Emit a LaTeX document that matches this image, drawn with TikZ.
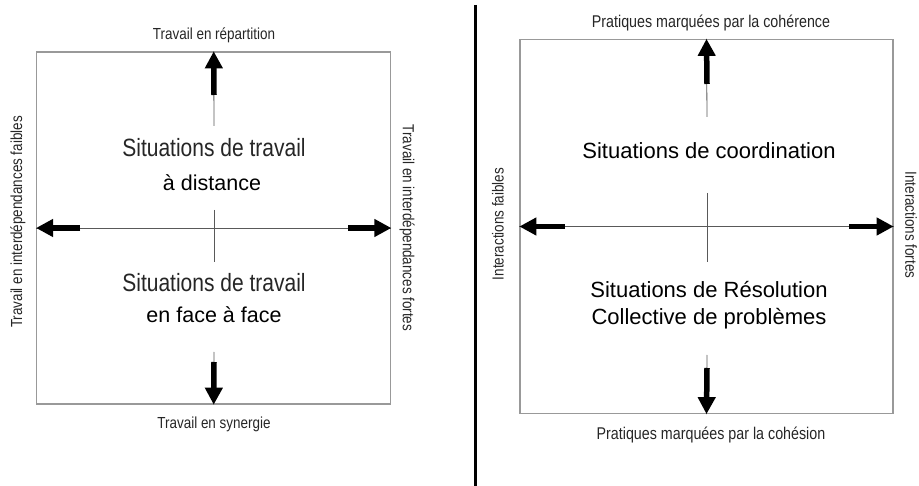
\documentclass[tikz,border=0pt]{standalone}
\usepackage{fontspec}
\setmainfont{Liberation Sans}
\newfontfamily\narrowfont[FakeStretch=0.84]{Liberation Sans}
\usetikzlibrary{arrows.meta}

\begin{document}
\begin{tikzpicture}[x=1pt, y=-1pt,
    frame/.style={draw=black!40, line width=1.3pt, inner sep=0},
    axisline/.style={draw=black!65, line width=0.8pt},
    bigarrow/.style={line width=5.5pt, -{Triangle[length=17pt, width=17pt]}},
    axislabel/.style={inner sep=0, text=black!85, font=\narrowfont\fontsize{16}{18}\selectfont},
    sitlabel/.style={inner sep=0, text=black!85, font=\narrowfont\fontsize{25}{28}\selectfont},
    plainlabel/.style={inner sep=0, align=center, font=\fontsize{21.5}{27}\selectfont}]
        \useasboundingbox (0, 0) rectangle (919, 486);

        % left panel
        \node (quadL) [frame, minimum width=354pt, minimum height=352pt] at (213.7, 228) {};

        \coordinate (L-t1) at (214, 126);
        \coordinate (L-t2) at (214, 210);
        \coordinate (L-b1) at (214, 262);
        \coordinate (L-b2) at (214, 352);
        \coordinate (L-ts) at (214, 95);
        \coordinate (L-bs) at (214, 362);
        \coordinate (L-ls) at (80, 228);
        \coordinate (L-rs) at (348, 228);

        \node (repart)   [axislabel] at (214, 35) {Travail en répartition};
        \node (synergie) [axislabel] at (214, 424.5) {Travail en synergie};
        \node (faibleL)  [axislabel, rotate=90] at (18, 222) {Travail en interdépendances faibles};
        \node (forteL)   [axislabel, rotate=-90] at (407, 228) {Travail en interdépendances fortes};

        \node (sitDist)  [sitlabel] at (214, 147.5) {Situations de travail};
        \node (distance) [plainlabel] at (212, 182.5) {à distance};
        \node (sitFace)  [sitlabel] at (214, 282.5) {Situations de travail};
        \node (face)     [plainlabel] at (214, 315) {en face à face};

        \draw[axisline] (quadL.west) -- (quadL.east);
        \draw[axisline] (L-t1) -- (quadL.north);
        \draw[axisline] (L-t2) -- (L-b1);
        \draw[axisline] (L-b2) -- (quadL.south);

        \draw[bigarrow] (L-ts) -- (quadL.north);
        \draw[bigarrow] (L-bs) -- (quadL.south);
        \draw[bigarrow] (L-ls) -- (quadL.west);
        \draw[bigarrow] (L-rs) -- (quadL.east);

        % separator
        \coordinate (sepTop) at (475, 5);
        \coordinate (sepBot) at (475, 486);
        \draw[line width=3pt] (sepTop) -- (sepBot);

        % right panel
        \node (quadR) [frame, minimum width=373pt, minimum height=374pt] at (706.5, 226.5) {};

        \coordinate (R-t1) at (707, 117);
        \coordinate (R-t2) at (707, 193);
        \coordinate (R-b1) at (707, 262);
        \coordinate (R-b2) at (707, 355);
        \coordinate (R-ts) at (707, 84);
        \coordinate (R-bs) at (707, 368);
        \coordinate (R-ls) at (565, 226.5);
        \coordinate (R-rs) at (849, 226.5);

        \node (coherence) [axislabel, font=\narrowfont\fontsize{17}{19}\selectfont] at (711, 23) {Pratiques marquées par la cohérence};
        \node (cohesion)  [axislabel, font=\narrowfont\fontsize{17}{19}\selectfont] at (711, 435) {Pratiques marquées par la cohésion};
        \node (faibleR)   [axislabel, rotate=90] at (498, 224) {Interactions faibles};
        \node (forteR)    [axislabel, rotate=-90] at (911, 225) {Interactions fortes};

        \node (coord)     [plainlabel, font=\fontsize{22}{27}\selectfont] at (709, 151) {Situations de coordination};
        \node (resol)     [plainlabel, font=\fontsize{22}{27}\selectfont] at (709, 305) {Situations de Résolution\\Collective de problèmes};

        \path[axisline] (quadR.west) edge (quadR.east)
            (R-t1) edge (quadR.north)
            (R-t2) edge (R-b1)
            (R-b2) edge (quadR.south);

        \draw[bigarrow] (R-ts) -- (quadR.north);
        \draw[bigarrow] (R-bs) -- (quadR.south);
        \draw[bigarrow] (R-ls) -- (quadR.west);
        \draw[bigarrow] (R-rs) -- (quadR.east);
      \end{tikzpicture}
\end{document}
